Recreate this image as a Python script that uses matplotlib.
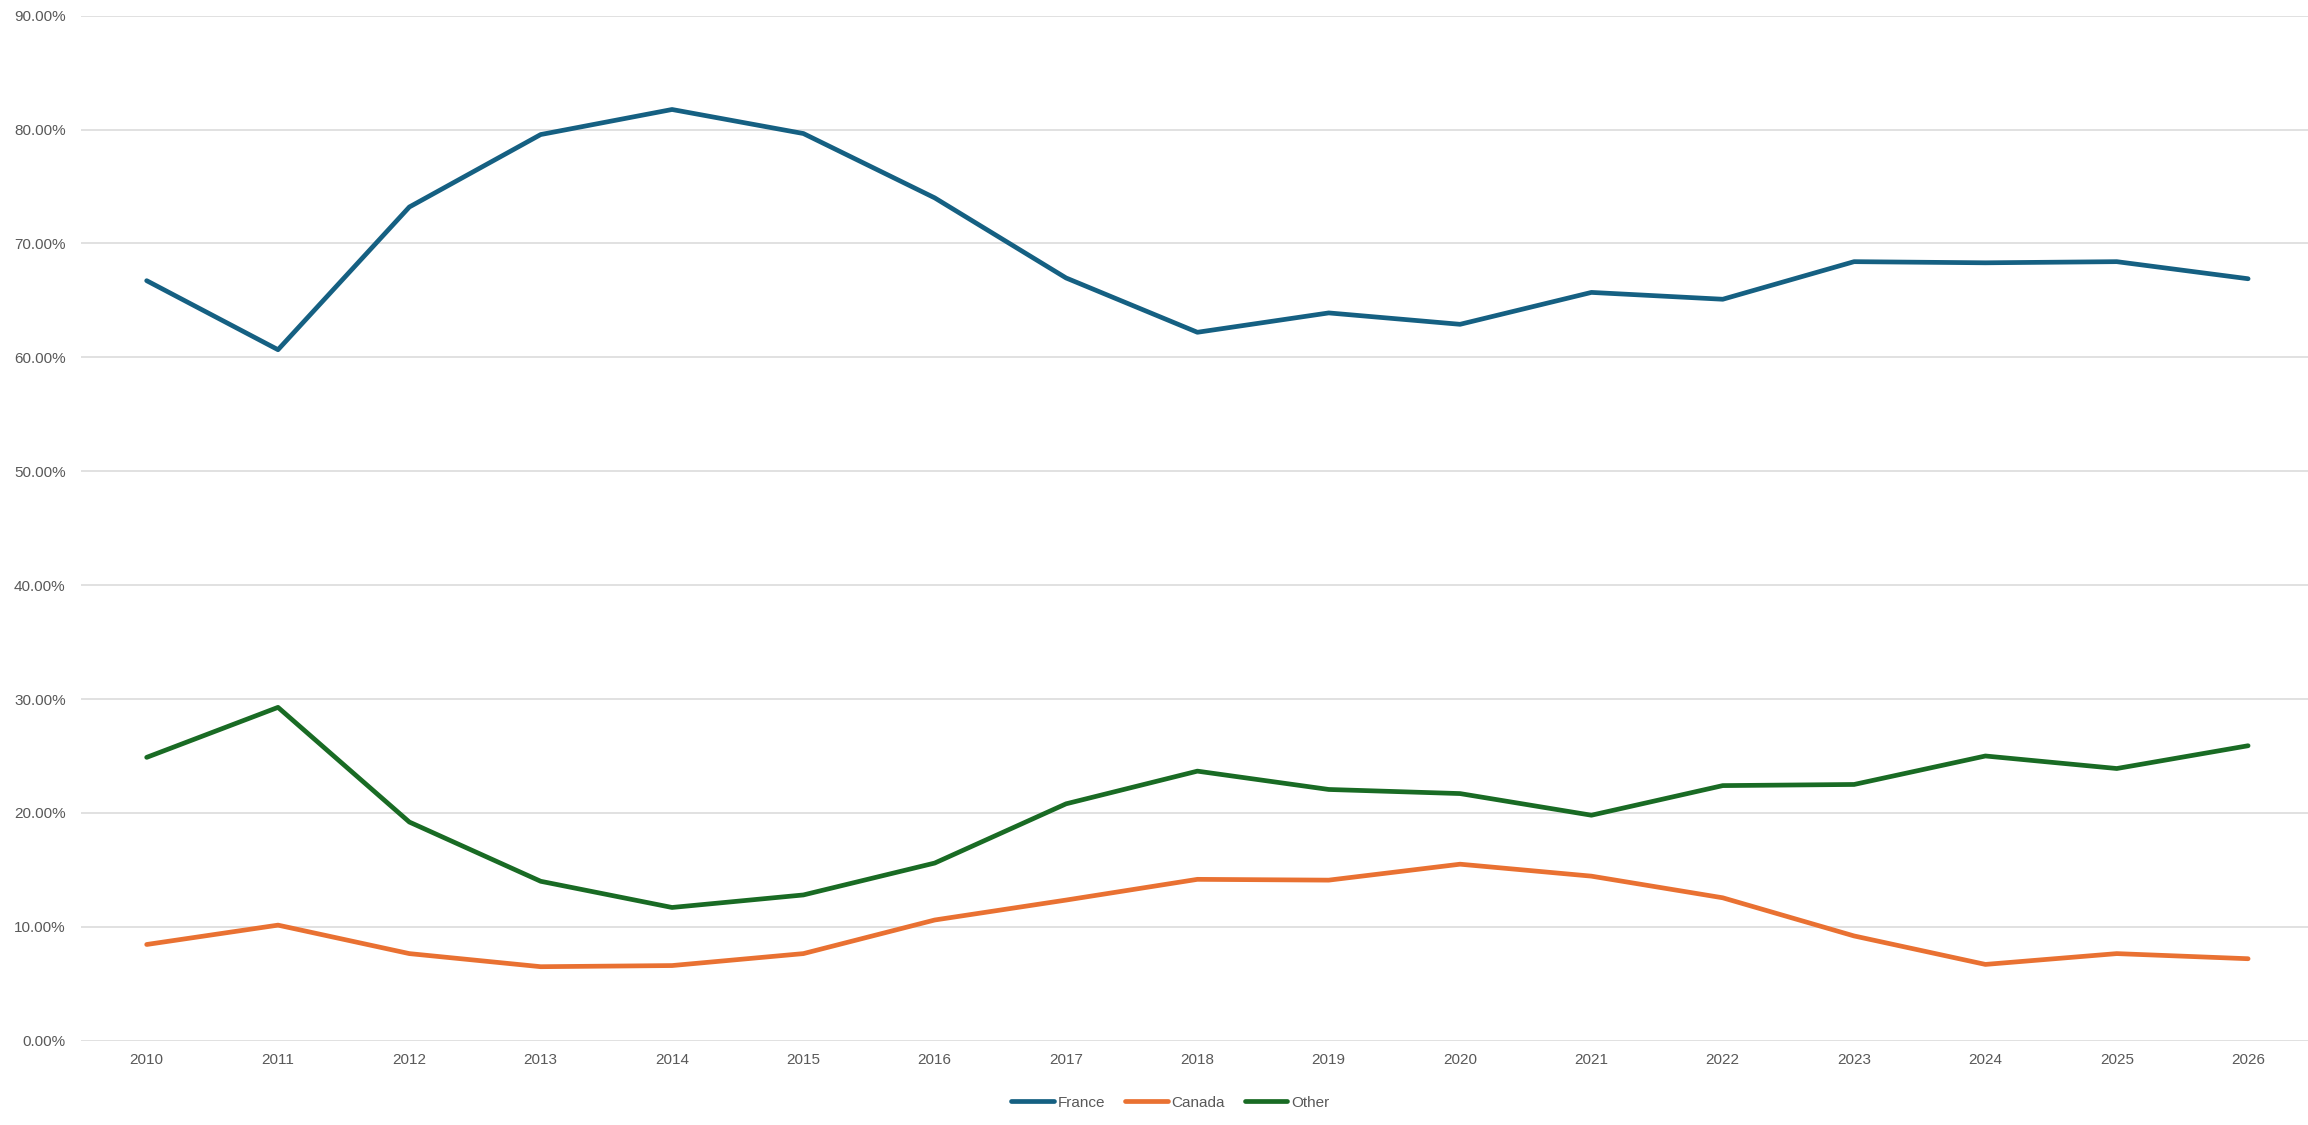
import matplotlib
matplotlib.use("Agg")
import matplotlib.pyplot as plt
from matplotlib.ticker import PercentFormatter

# ============================================================
#   DATOS
# ============================================================
years = [str(y) for y in range(2010, 2027)]
france = [66.73, 60.67, 73.2, 79.56, 81.76, 79.65, 74.0, 66.97, 62.2,
          63.9, 62.9, 65.7, 65.1, 68.4, 68.3, 68.4, 66.9]
canada = [8.45, 10.15, 7.65, 6.5, 6.6, 7.65, 10.6, 12.35, 14.17,
          14.1, 15.5, 14.45, 12.55, 9.2, 6.7, 7.65, 7.2]
other = [24.88, 29.27, 19.2, 14.0, 11.7, 12.8, 15.6, 20.8, 23.67,
         22.06, 21.7, 19.8, 22.4, 22.5, 25.0, 23.9, 25.9]
y_ticks = [0, 10, 20, 30, 40, 50, 60, 70, 80, 90]

series = [("France", france, "#156082"),
          ("Canada", canada, "#E97132"),
          ("Other", other, "#196B24")]

# ============================================================
#   GRAFICO
# ============================================================
plt.rcParams["font.family"] = ["Liberation Sans", "DejaVu Sans"]
txt_color = "#595959"

fig = plt.figure(figsize=(23.08, 11.25), dpi=100)
ax = fig.add_axes([0.0351, 0.0749, 0.9674, 0.9112])

x = list(range(len(years)))
for name, vals, col in series:
    ax.plot(x, vals, color=col, lw=3.4, label=name,
            solid_joinstyle="round", solid_capstyle="round", zorder=3)

ax.set_xlim(-0.5, len(years) - 0.5)
ax.set_ylim(0, 90)
ax.set_yticks(y_ticks)
ax.yaxis.set_major_formatter(PercentFormatter(decimals=2))
ax.set_xticks(x)
ax.set_xticklabels(years)
ax.grid(axis="y", color="#D9D9D9", lw=1.1, zorder=0)
ax.set_axisbelow(True)
for s in ax.spines.values():
    s.set_visible(False)
ax.tick_params(axis="both", length=0, labelsize=11, colors=txt_color)
ax.tick_params(axis="y", pad=11)
ax.tick_params(axis="x", pad=9)

fig.legend(loc="center", bbox_to_anchor=(0.507, 0.0198), ncol=3, frameon=False,
           fontsize=11, handlelength=2.8, handletextpad=0.25,
           columnspacing=1.3, labelcolor=txt_color)

fig.savefig("out.png", dpi=100, facecolor="white")
plt.close(fig)
